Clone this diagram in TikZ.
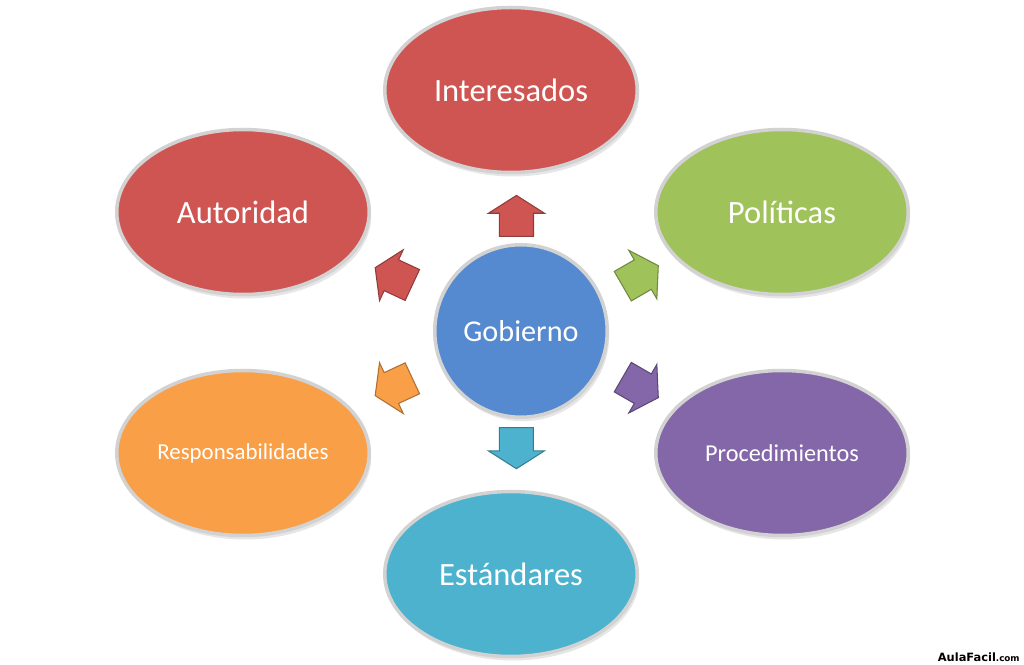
\documentclass[tikz,border=0pt]{standalone}
\usepackage{fontspec}
\setmainfont{Carlito}
\newfontfamily\marcafont{DejaVu Sans}
\usepackage{tikz}
\usetikzlibrary{calc,shapes.geometric,shapes.arrows,shadows,positioning}
\definecolor{rojo}{HTML}{CF5553}
\definecolor{verde}{HTML}{A0C25B}
\definecolor{naranja}{HTML}{F89F48}
\definecolor{morado}{HTML}{8467A8}
\definecolor{aguamarina}{HTML}{4DB2CD}
\definecolor{azul}{HTML}{558AD0}
\tikzstyle{elipse} = [ellipse, minimum width=5.05cm, minimum height=3.3cm, inner sep=0pt, text centered, draw=gray!35, line width=0.07cm, text=white, font=\fontsize{18.5}{22}\selectfont, drop shadow={opacity=0.2, shadow xshift=0.04cm, shadow yshift=-0.08cm}]
\tikzstyle{circulo} = [circle, minimum size=3.45cm, inner sep=0pt, text centered, draw=gray!35, line width=0.07cm, fill=azul, text=white, font=\fontsize{17.2}{20}\selectfont, drop shadow={opacity=0.2, shadow xshift=0.04cm, shadow yshift=-0.08cm}]
\tikzstyle{flecha} = [single arrow, minimum height=0.82cm, inner xsep=0.2cm, inner ysep=0.33cm, single arrow head extend=0.22cm, single arrow tip angle=115, line width=0.6pt]
\begin{document}
\begin{tikzpicture}
	\useasboundingbox (0,0) rectangle (20.48,13.3);
	% Nodos
	\node (gob) [circulo] at (10.42,6.68) {Gobierno};
	\node (inter) [elipse, fill=rojo] at (10.22,11.5) {Interesados};
	\node (auto) [elipse, fill=rojo] at (4.86,9.06) {Autoridad};
	\node (poli) [elipse, fill=verde] at (15.64,9.06) {Políticas};
	\node (resp) [elipse, fill=naranja, font=\fontsize{13}{15}\selectfont] at (4.86,4.24) {Responsabilidades};
	\node (proc) [elipse, fill=morado, font=\fontsize{13.8}{16}\selectfont] at (15.64,4.24) {Procedimientos};
	\node (est) [elipse, fill=aguamarina] at (10.22,1.82) {Estándares};
	% Flechas
	\node (f1) [flecha, fill=rojo, draw=rojo!70!black, rotate=90] at ($(gob)!0.455!(inter)$) {};
	\node (f2) [flecha, fill=rojo, draw=rojo!70!black, rotate=155] at ($(gob)!0.44!(auto)$) {};
	\node (f3) [flecha, fill=verde, draw=verde!70!black, rotate=30] at ($(gob)!0.44!(poli)$) {};
	\node (f4) [flecha, fill=naranja, draw=naranja!70!black, rotate=205] at ($(gob)!0.44!(resp)$) {};
	\node (f5) [flecha, fill=morado, draw=morado!70!black, rotate=-30] at ($(gob)!0.44!(proc)$) {};
	\node (f6) [flecha, fill=aguamarina, draw=aguamarina!70!black, rotate=270] at ($(gob)!0.46!(est)$) {};
	% Marca
	\node (marca) [anchor=east, inner sep=0pt, font=\marcafont\bfseries\fontsize{6.5}{8}\selectfont] at (20.4,0.15) {AulaFacil{\fontsize{5}{6}\selectfont.com}};
\end{tikzpicture}
\end{document}
